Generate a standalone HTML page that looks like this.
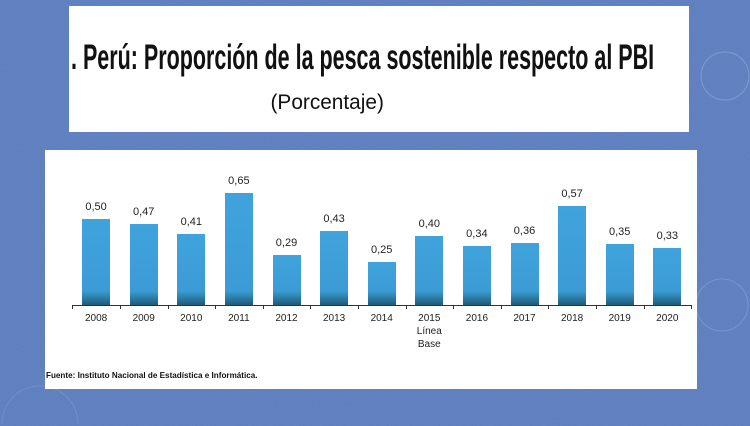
<!DOCTYPE html>
<html><head><meta charset="utf-8">
<style>
html,body{margin:0;padding:0;width:750px;height:426px;overflow:hidden;}
body{position:relative;background:#5b7cbd;font-family:"Liberation Sans",Arial,sans-serif;}
#wrap{position:absolute;left:0;top:0;width:750px;height:426px;overflow:hidden;}
.abs{position:absolute;}
#top{left:69px;top:6px;width:620px;height:126px;background:#fff;}
#chart{left:45px;top:150px;width:652px;height:239px;background:#fff;}
.title{left:71px;top:38px;font-weight:bold;font-size:35px;line-height:40px;white-space:nowrap;transform-origin:0 0;color:#111;}
.sub{left:270px;top:90px;font-size:21px;line-height:26px;white-space:nowrap;color:#111;}
.bar{position:absolute;width:28px;background:linear-gradient(to bottom,#41a3dc 0%,#3b9cd5 calc(100% - 14px),#2a789f calc(100% - 6px),#1f5a7a 100%);}
.val{position:absolute;width:50px;text-align:center;font-size:11px;line-height:12px;color:#222;}
.yr{position:absolute;width:50px;text-align:center;font-size:10px;line-height:13px;color:#222;}
.axis{left:72px;top:305px;width:619px;height:1px;background:#333;}
.tick{position:absolute;top:305px;width:1px;height:4px;background:#333;}
.src{left:46px;top:370px;font-weight:bold;font-size:8.5px;line-height:11px;white-space:nowrap;transform-origin:0 0;color:#111;}
</style></head><body>
<div id="wrap">
<svg class="abs" style="left:0;top:0;display:block" width="750" height="426">
<defs><filter id="n"><feTurbulence type="fractalNoise" baseFrequency="0.9" numOctaves="2" seed="3"/><feColorMatrix values="0 0 0 0 1  0 0 0 0 1  0 0 0 0 1  0 0 0 0.07 0"/></filter></defs>
<rect width="750" height="426" filter="url(#n)"/>
<circle cx="725" cy="76" r="24" fill="none" stroke="#9fb4de" stroke-width="1" opacity="0.5"/>
<circle cx="722" cy="305" r="26" fill="none" stroke="#9fb4de" stroke-width="1" opacity="0.4"/>
<path d="M2,424 A38,38 0 0 1 78,424" fill="none" stroke="#9fb4de" stroke-width="1" opacity="0.3"/>
</svg>
<div id="top" class="abs"></div>
<div id="chart" class="abs"></div>
<div class="abs title" id="title">. Perú: Proporción de la pesca sostenible respecto al PBI</div>
<div class="abs sub" id="sub">(Porcentaje)</div>
<div class="abs axis"></div>
<div id="bars"></div>
<div class="abs src" id="src">Fuente: Instituto Nacional de Estadística e Informática.</div>
</div>
<script>
(function(){
  var vals=[0.50,0.47,0.41,0.65,0.29,0.43,0.25,0.40,0.34,0.36,0.57,0.35,0.33];
  var yrs=["2008","2009","2010","2011","2012","2013","2014","2015<br>Línea<br>Base","2016","2017","2018","2019","2020"];
  var x0=72.3, step=47.6, base=305, k=173;
  var html="";
  for(var i=0;i<=13;i++){
    html+='<div class="tick" style="left:'+Math.round(x0+step*i)+'px"></div>';
  }
  for(var i=0;i<13;i++){
    var c=x0+step*(i+0.5);
    var h=vals[i]*k;
    html+='<div class="bar" style="left:'+(c-14).toFixed(1)+'px;top:'+(base-h).toFixed(1)+'px;height:'+h.toFixed(1)+'px"></div>';
    html+='<div class="val" style="left:'+(c-25).toFixed(1)+'px;top:'+(base-h-18).toFixed(1)+'px">'+vals[i].toFixed(2).replace('.',',')+'</div>';
    html+='<div class="yr" style="left:'+(c-25).toFixed(1)+'px;top:312px">'+yrs[i]+'</div>';
  }
  document.getElementById('bars').innerHTML=html;
  function fit(id,w){var e=document.getElementById(id);var sw=e.scrollWidth||e.getBoundingClientRect().width;if(sw>0){e.style.transform='scaleX('+(w/sw)+')';}}
  fit('title',583);
  fit('sub',113);
  fit('src',212);
})();
</script>
</body></html>
